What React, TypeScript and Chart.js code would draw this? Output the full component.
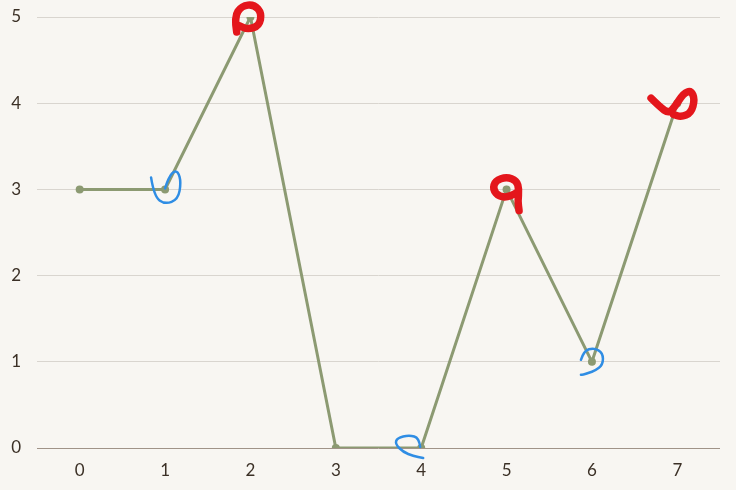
import React, { useEffect, useRef } from "react";
import { Chart, registerables } from "chart.js";

Chart.register(...registerables);

const labels = ["0", "1", "2", "3", "4", "5", "6", "7"];
const values = [3, 3, 5, 0, 0, 3, 1, 4];
const yTicks = [0, 1, 2, 3, 4, 5];

// hand-drawn annotation marks: index of point and stroke path relative to the point
const redMarks: { index: number; path: number[][] }[] = [
  { index: 2, path: [[-11, 12], [-13, 0], [-7, -9], [3, -10], [9, -3], [7, 7], [-2, 10], [-9, 7]] },
  { index: 5, path: [[9, 2], [3, 6], [-6, 6], [-11, 0], [-9, -7], [0, -10], [8, -7], [10, 0], [9, 9], [10, 17]] },
  { index: 7, path: [[-21, -4], [-14, 3], [-7, 8], [-2, 3], [5, -8], [11, -10], [14, -3], [11, 8], [3, 11], [-3, 9]] },
];
const blueMarks: { index: number; path: number[][] }[] = [
  { index: 1, path: [[-14, -12], [-11, 7], [0, 15], [13, 10], [16, -7], [13, -18], [8, -18], [3, -10], [0, -1]] },
  { index: 4, path: [[-1, -1], [-2, -10], [-12, -13], [-24, -10], [-26, -4], [-18, 4], [-8, 8], [2, 10]] },
  { index: 6, path: [[-11, -2], [-8, -11], [2, -14], [11, -9], [11, 3], [3, 9], [-3, 11], [-9, 13], [-11, 13]] },
];

function strokeSmooth(ctx: CanvasRenderingContext2D, x: number, y: number, pts: number[][], s: number) {
  ctx.beginPath();
  ctx.moveTo(x + pts[0][0] * s, y + pts[0][1] * s);
  for (let i = 1; i < pts.length - 1; i++) {
    const mx = (pts[i][0] + pts[i + 1][0]) / 2;
    const my = (pts[i][1] + pts[i + 1][1]) / 2;
    ctx.quadraticCurveTo(x + pts[i][0] * s, y + pts[i][1] * s, x + mx * s, y + my * s);
  }
  const last = pts[pts.length - 1];
  ctx.lineTo(x + last[0] * s, y + last[1] * s);
  ctx.stroke();
}

const scribblePlugin = {
  id: "scribbles",
  afterDatasetsDraw(chart: any) {
    const meta = chart.getDatasetMeta(0);
    const ctx: CanvasRenderingContext2D = chart.ctx;
    ctx.save();
    ctx.lineCap = "round";
    ctx.lineJoin = "round";
    ctx.strokeStyle = "#e4161c";
    ctx.lineWidth = 7.5;
    redMarks.forEach((m) => {
      const p = meta.data[m.index];
      strokeSmooth(ctx, p.x, p.y, m.path, 1.25);
    });
    ctx.strokeStyle = "#2f8de4";
    ctx.lineWidth = 2.5;
    blueMarks.forEach((m) => {
      const p = meta.data[m.index];
      strokeSmooth(ctx, p.x, p.y, m.path, 1);
    });
    ctx.restore();
  },
};

const bgPlugin = {
  id: "bg",
  beforeDraw(chart: any) {
    const ctx = chart.ctx;
    ctx.save();
    ctx.fillStyle = "#f8f6f2";
    ctx.fillRect(0, 0, chart.width, chart.height);
    ctx.restore();
  },
};

const tickFont = { family: "Lato", size: 17, weight: "400" };

export default function App() {
  const ref = useRef<HTMLCanvasElement>(null);
  useEffect(() => {
    document.body.style.margin = "0";
    document.body.style.background = "#f8f6f2";
    if (!ref.current) return;
    const chart = new Chart(ref.current, {
      type: "line",
      data: {
        labels,
        datasets: [
          {
            data: values,
            borderColor: "#8c9a72",
            backgroundColor: "#8c9a72",
            borderWidth: 3,
            pointRadius: 4,
            pointBackgroundColor: "#8c9a72",
            pointBorderWidth: 0,
            tension: 0,
          },
        ],
      },
      options: {
        animation: false,
        responsive: false,
        maintainAspectRatio: false,
        layout: { padding: { top: 0, right: 16, left: 0, bottom: 0 } },
        plugins: { legend: { display: false }, tooltip: { enabled: false } },
        scales: {
          x: {
            offset: true,
            grid: { display: false, drawTicks: false },
            border: { display: false },
            ticks: { color: "#3b3026", font: tickFont, padding: 12 },
            afterFit: (s: any) => {
              s.height = 42;
            },
          },
          y: {
            min: 0,
            max: 5,
            afterBuildTicks: (axis: any) => {
              axis.ticks = yTicks.map((v) => ({ value: v }));
            },
            grid: {
              drawTicks: false,
              color: (c: any) => (c.tick && c.tick.value === 0 ? "#a09388" : "#d9d5cf"),
              lineWidth: 1,
            },
            border: { display: false },
            ticks: { color: "#3b3026", font: tickFont, padding: 16 },
            afterFit: (s: any) => {
              s.width = 37;
              s.paddingTop = 17;
              s.paddingBottom = 0;
            },
          },
        },
      },
      plugins: [bgPlugin, scribblePlugin],
    });
    return () => chart.destroy();
  }, []);
  return (
    <div style={{ width: 736, height: 490, background: "#f8f6f2" }}>
      <canvas ref={ref} width={736} height={490} style={{ display: "block" }} />
    </div>
  );
}
